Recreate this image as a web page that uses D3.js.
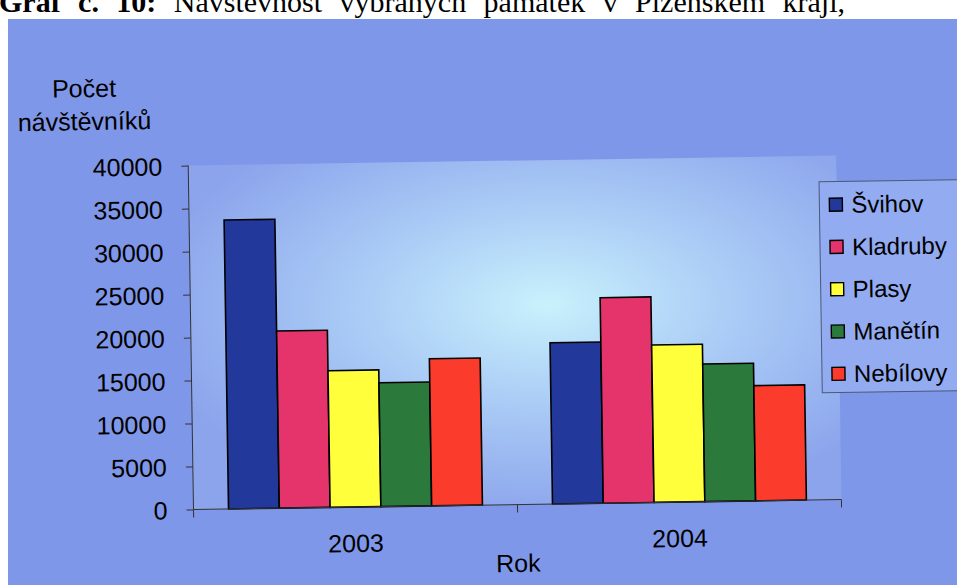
<!DOCTYPE html>
<html>
<head>
<meta charset="utf-8">
<script src="https://cdn.jsdelivr.net/npm/d3@7"></script>
<style>
  html, body { margin: 0; padding: 0; background: #ffffff; }
  svg { display: block; }
  text { font-family: "Liberation Sans", Arial, sans-serif; fill: #000; }
</style>
</head>
<body>
<svg id="chart" width="957" height="585"></svg>
<script>
// ---- data ----
const categories = ["2003", "2004"];
const series = ["Švihov", "Kladruby", "Plasy", "Manětín", "Nebílovy"];
const values2003 = [33600, 20600, 15900, 14400, 17100];
const values2004 = [18750, 23900, 18300, 16000, 13400];
const yTicks = [0, 5000, 10000, 15000, 20000, 25000, 30000, 35000, 40000];
const seriesColors = ["#22389a", "#e5336c", "#ffff3c", "#2b7a3c", "#fb3b2b"];
const titleBold = "Graf č. 10:";
const titleRest = " Návštěvnost vybraných památek v Plzeňském kraji,";
const yTitle = ["Počet", "návštěvníků"];
const xTitle = "Rok";

const valuesByYear = [values2003, values2004];
const table = categories.map((c, i) => ({
  year: c,
  items: series.map((s, j) => ({ name: s, value: valuesByYear[i][j], color: seriesColors[j] }))
}));

const svg = d3.select("#chart");
const W = 648, H = 344;
const FS = 25;

// defs
const defs = svg.append("defs");
const rg = defs.append("radialGradient").attr("id", "plotGrad")
  .attr("cx", "0.55").attr("cy", "0.42").attr("r", "0.62");
rg.append("stop").attr("offset", "0").attr("stop-color", "#c9f1fc");
rg.append("stop").attr("offset", "0.45").attr("stop-color", "#abcdf6");
rg.append("stop").attr("offset", "1").attr("stop-color", "#8ca4ec");

// page title (cut off at top, justified line)
const t = svg.append("text").attr("x", -1).attr("y", 12)
  .style("font-family", "'Liberation Serif', 'Times New Roman', serif")
  .style("font-size", "30px");
t.append("tspan").style("font-weight", "bold").text(titleBold);
t.append("tspan").text(titleRest);
const titleEnd = 846;
const natural = t.node().getComputedTextLength();
const nSpaces = (titleBold + titleRest).split(" ").length - 1;
if (natural < titleEnd) t.style("word-spacing", ((titleEnd - natural) / nSpaces) + "px");

// outer blue background
svg.append("rect").attr("x", 8).attr("y", 19).attr("width", 957).attr("height", 585)
  .attr("fill", "#7f97e8");

// chart group, slightly rotated like the scan
const g = svg.append("g").attr("transform", "translate(193.5,509.5) rotate(-0.88)");

const y = d3.scaleLinear().domain([0, 40000]).range([0, -H]);
const x0 = d3.scaleBand().domain(categories).range([0, W]).padding(0);
const x1 = d3.scaleBand().domain(series).range([0, x0.bandwidth()]).paddingInner(0).paddingOuter(0.69);

// plot area
g.append("rect").attr("x", 0).attr("y", -H).attr("width", W).attr("height", H)
  .attr("fill", "url(#plotGrad)");

// bars
const groups = g.selectAll("g.cat").data(table).join("g")
  .attr("class", "cat")
  .attr("transform", d => `translate(${x0(d.year)},0)`);
groups.selectAll("rect").data(d => d.items).join("rect")
  .attr("x", d => x1(d.name))
  .attr("y", d => y(d.value))
  .attr("width", x1.bandwidth())
  .attr("height", d => -y(d.value))
  .attr("fill", d => d.color)
  .attr("stroke", "#000")
  .attr("stroke-width", 1.6);

// y axis
const yAxis = g.append("g").call(d3.axisLeft(y).tickValues(yTicks).tickSize(7).tickPadding(19).tickFormat(d3.format("d")));
yAxis.select(".domain").attr("stroke", "#333").attr("d", `M0,0V${-H}`);
yAxis.selectAll(".tick line").attr("stroke", "#333");
yAxis.selectAll("text").style("font-size", FS + "px").attr("dy", "0.36em");

// x axis
const xAxis = g.append("g").call(d3.axisBottom(x0).tickSize(0).tickPadding(0));
xAxis.select(".domain").attr("stroke", "#333").attr("d", `M0,0H${W}`);
xAxis.selectAll("text").style("font-size", FS + "px").attr("y", 45).attr("dy", 0);
const bounds = [0].concat(categories.map(c => x0(c) + x0.bandwidth()));
g.selectAll("line.xt").data(bounds).join("line").attr("class", "xt")
  .attr("x1", d => d).attr("x2", d => d).attr("y1", 0).attr("y2", 8)
  .attr("stroke", "#333");

// axis titles
g.append("text").attr("x", W / 2).attr("y", 67.5).attr("text-anchor", "middle")
  .style("font-size", FS + "px").text(xTitle);
g.selectAll("text.ytitle").data(yTitle).join("text").attr("class", "ytitle")
  .attr("x", -103).attr("y", (d, i) => -414 + i * 33).attr("text-anchor", "middle")
  .style("font-size", FS + "px").text(d => d);

// legend
const lg = g.append("g").attr("transform", "translate(630.5,-318)");
lg.append("rect").attr("width", 140).attr("height", 211)
  .attr("fill", "#93abf0").attr("stroke", "#4a5a7a").attr("stroke-width", 1);
const li = lg.selectAll("g.li").data(series).join("g").attr("class", "li")
  .attr("transform", (d, i) => `translate(0,${23 + i * 42.3})`);
li.append("rect").attr("x", 10).attr("y", -6.5).attr("width", 13).attr("height", 13)
  .attr("fill", (d, i) => seriesColors[i]).attr("stroke", "#000").attr("stroke-width", 1.4);
li.append("text").attr("x", 32).attr("y", 8.5).style("font-size", "24px").text(d => d);
</script>
</body>
</html>
